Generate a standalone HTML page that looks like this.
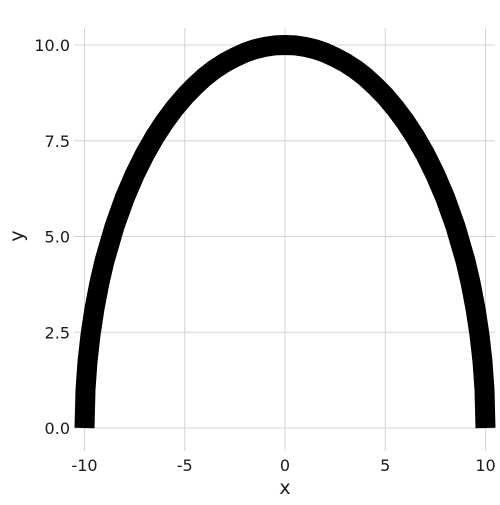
<!DOCTYPE html>
<html><head><style>body{margin:0;background:#fff}svg text{font-family:"DejaVu Sans","Liberation Sans",sans-serif;fill:#1a1a1a}</style></head>
<body>
<svg id="chart" width="500" height="500" xmlns="http://www.w3.org/2000/svg"></svg>
<script>
const xValues=[-10,-9.95,-9.85,-9.7,-9.5,-9.25,-9,-8.5,-8,-7.5,-7,-6.5,-6,-5.5,-5,-4.5,-4,-3.5,-3,-2.5,-2,-1.5,-1,-0.5,0,0.5,1,1.5,2,2.5,3,3.5,4,4.5,5,5.5,6,6.5,7,7.5,8,8.5,9,9.25,9.5,9.7,9.85,9.95,10];
const yValues=[0,1.0,1.73,2.43,3.12,3.8,4.36,5.27,6,6.61,7.14,7.6,8,8.35,8.66,8.93,9.17,9.37,9.54,9.68,9.8,9.89,9.95,9.99,10,9.99,9.95,9.89,9.8,9.68,9.54,9.37,9.17,8.93,8.66,8.35,8,7.6,7.14,6.61,6,5.27,4.36,3.8,3.12,2.43,1.73,1.0,0];
const xTicks=[-10,-5,0,5,10];
const xTickLabels=["-10","-5","0","5","10"];
const yTicks=[0,2.5,5,7.5,10];
const yTickLabels=["0.0","2.5","5.0","7.5","10.0"];
const NS="http://www.w3.org/2000/svg";
const svg=document.getElementById('chart');
const sx=v=>285+v*20.05;
const sy=v=>428-v*38.3;
function mk(t,a){const e=document.createElementNS(NS,t);for(const k in a)e.setAttribute(k,a[k]);svg.appendChild(e);return e;}
xTicks.forEach((t,i)=>{
 const g=mk('line',{x1:sx(t),x2:sx(t),y1:28,y2:451,stroke:'#d4d4d4','stroke-width':1});
 
 
 const l=mk('text',{x:sx(t),y:471,'text-anchor':'middle','font-size':16});
 l.textContent=xTickLabels[i];
 
 
});
yTicks.forEach((t,i)=>{
 const g=mk('line',{x1:74,x2:495,y1:sy(t),y2:sy(t),stroke:'#d4d4d4','stroke-width':1});
 
 
 const l=mk('text',{x:70,y:sy(t)+6,'text-anchor':'end','font-size':16});
 l.textContent=yTickLabels[i];
 
 
});
const d=xValues.map((x,i)=>(i?'L':'M')+sx(x).toFixed(1)+','+sy(yValues[i]).toFixed(1)).join(' ');
const p=mk('path',{d:d,fill:'none',stroke:'#000','stroke-width':20,'stroke-linejoin':'round','stroke-linecap':'butt'});


const xt=mk('text',{x:285,y:494,'text-anchor':'middle','font-size':19});
xt.textContent='x';


const yt=mk('text',{x:23,y:236,'text-anchor':'middle','font-size':19,transform:'rotate(-90 23 236)'});
yt.textContent='y';


</script>
</body></html>
